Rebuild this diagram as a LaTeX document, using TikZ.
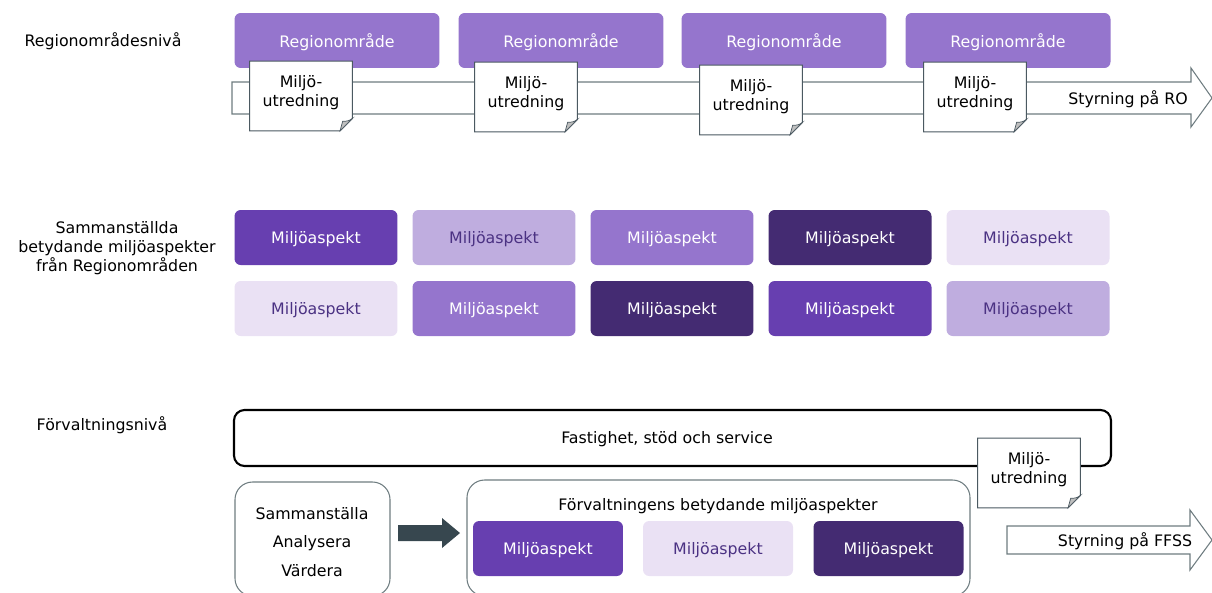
\documentclass[tikz,border=0pt]{standalone}
\usepackage{fontspec}
\setmainfont{DejaVu Sans}
\definecolor{aspA}{HTML}{673FB0}
\definecolor{aspB}{HTML}{BFADDF}
\definecolor{aspC}{HTML}{9575CD}
\definecolor{aspD}{HTML}{442B72}
\definecolor{aspE}{HTML}{EAE1F4}
\definecolor{asptext}{HTML}{4B3283}
\definecolor{edgegray}{HTML}{6E7C80}
\definecolor{slate}{HTML}{37474F}
\begin{document}
\begin{tikzpicture}[x=0.02cm, y=-0.02cm, font=\fontsize{9}{11}\selectfont,
	regbox/.style={fill=aspC, text=white, rounded corners=3.5pt, minimum width=4.1cm, minimum height=1.1cm, text depth=0pt},
	aspbox/.style={fill=#1, rounded corners=3.5pt, minimum width=3.26cm, minimum height=1.1cm, text depth=0pt},
	smallasp/.style={fill=#1, rounded corners=3.5pt, minimum width=3cm, minimum height=1.1cm, text depth=0pt},
	onlight/.style={text=asptext},
	ondark/.style={text=white},
	note/.style={minimum width=2.04cm, minimum height=1.38cm, align=center, inner sep=1pt},
	noteline/.style={draw=slate!90, fill=white, line width=0.6pt},
	foldline/.style={draw=slate!90, fill=gray!50, line width=0.4pt},
	flowarrow/.style={draw=edgegray, fill=white, line width=0.6pt},
	levelbox/.style={draw=edgegray, rounded corners=10pt, line width=0.6pt}]
	\useasboundingbox (0,0) rectangle (1212,592);

	% regionområdesnivå
	\node (lvlRO) at (103,41) {Regionområdesnivå};
	\draw[flowarrow] (232,82) -- (1191,82) -- (1191,68) -- (1212,98) -- (1191,127) -- (1191,114) -- (232,114) -- cycle;
	\node[anchor=east] (styrRO) at (1194,99) {Styrning på RO};
	\foreach \i/\x in {1/337, 2/561, 3/784, 4/1008}
		\node[regbox] (ro\i) at (\x,40.5) {Regionområde};
	\foreach \i/\x/\y in {1/301/96, 2/526/97, 3/751/100, 4/975/97} {
		\node[note] (n\i) at (\x,\y) {};
		\draw[noteline] (n\i.north west) -- (n\i.north east) -- ([yshift=7pt]n\i.south east) -- ([xshift=-7pt]n\i.south east) -- (n\i.south west) -- cycle;
		\draw[foldline] ([xshift=-7pt]n\i.south east) -- ([yshift=7pt]n\i.south east) to[bend left=20] ([xshift=-5.5pt,yshift=5.5pt]n\i.south east) -- cycle;
		\node[align=center] (t\i) at ([yshift=2pt]n\i.center) {Miljö-\\utredning};
	}

	% sammanställda miljöaspekter
	\node[align=center] (lvlSum) at (117,248) {Sammanställda\\betydande miljöaspekter\\från Regionområden};
	\node[aspbox=aspA, ondark]  (a1) at (316,237.5) {Miljöaspekt};
	\node[aspbox=aspB, onlight] (a2) at (494,237.5) {Miljöaspekt};
	\node[aspbox=aspC, ondark]  (a3) at (672,237.5) {Miljöaspekt};
	\node[aspbox=aspD, ondark]  (a4) at (850,237.5) {Miljöaspekt};
	\node[aspbox=aspE, onlight] (a5) at (1028,237.5) {Miljöaspekt};
	\node[aspbox=aspE, onlight] (b1) at (316,308.5) {Miljöaspekt};
	\node[aspbox=aspC, ondark]  (b2) at (494,308.5) {Miljöaspekt};
	\node[aspbox=aspD, ondark]  (b3) at (672,308.5) {Miljöaspekt};
	\node[aspbox=aspA, ondark]  (b4) at (850,308.5) {Miljöaspekt};
	\node[aspbox=aspB, onlight] (b5) at (1028,308.5) {Miljöaspekt};

	% förvaltningsnivå
	\node (lvlF) at (102,425) {Förvaltningsnivå};
	\draw[black, line width=1.2pt, rounded corners=6pt] (234,410) rectangle (1111,466);
	\node (ffss) at (667,439) {Fastighet, stöd och service};
	\node[note] (nF) at (1029,473) {};
	\draw[noteline] (nF.north west) -- (nF.north east) -- ([yshift=7pt]nF.south east) -- ([xshift=-7pt]nF.south east) -- (nF.south west) -- cycle;
	\draw[foldline] ([xshift=-7pt]nF.south east) -- ([yshift=7pt]nF.south east) to[bend left=20] ([xshift=-5.5pt,yshift=5.5pt]nF.south east) -- cycle;
	\node[align=center] (tF) at ([yshift=2pt]nF.center) {Miljö-\\utredning};

	\draw[levelbox] (235,482) rectangle (390,596);
	\node[align=center] (steg) at (312,542) {Sammanställa\\[5pt]Analysera\\[5pt]Värdera};
	\draw[fill=slate, draw=none] (398,525) -- (442,525) -- (442,518) -- (460,533) -- (442,548) -- (442,541) -- (398,541) -- cycle;
	\draw[levelbox] (467,480) rectangle (970,596);
	\node (fbm) at (718,506) {Förvaltningens betydande miljöaspekter};
	\node[smallasp=aspA, ondark]  (f1) at (548,548.5) {Miljöaspekt};
	\node[smallasp=aspE, onlight] (f2) at (718,548.5) {Miljöaspekt};
	\node[smallasp=aspD, ondark]  (f3) at (888.5,548.5) {Miljöaspekt};

	\draw[flowarrow] (1007,526) -- (1190,526) -- (1190,510) -- (1212,540) -- (1190,570) -- (1190,554) -- (1007,554) -- cycle;
	\node (styrF) at (1125,541) {Styrning på FFSS};
\end{tikzpicture}
\end{document}
